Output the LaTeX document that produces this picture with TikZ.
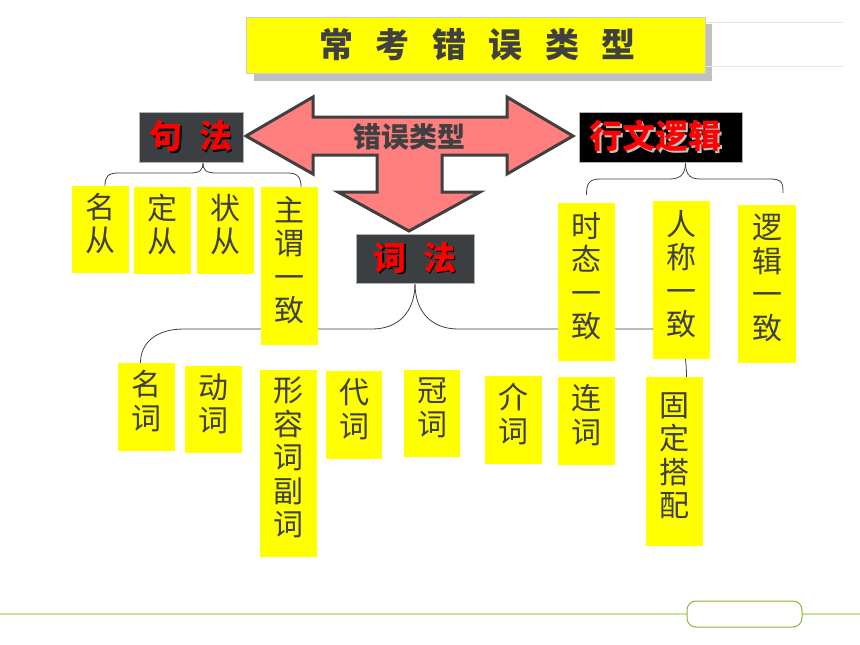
\documentclass[tikz,border=0pt]{standalone}
\usepackage{fontspec}
\newfontfamily\cjk{Noto Sans CJK SC}
\definecolor{boxyellow}{HTML}{FFFF00}
\definecolor{arrowpink}{HTML}{FF7F7F}
\definecolor{darkline}{HTML}{404040}
\definecolor{slate}{HTML}{3C3F42}
\definecolor{textgray}{HTML}{404040}
\definecolor{palegreen}{HTML}{CDE09C}
\definecolor{leafgreen}{HTML}{8CB43C}
\definecolor{shadowgray}{HTML}{C0C0C0}
\pgfdeclarelayer{background}
\pgfsetlayers{background,main}
\newcommand\redshade[2]{\makebox[0pt][l]{\hspace{1.5pt}\raisebox{-1.5pt}{\color{#1}#2}}#2}
\tikzset{
  wordbox/.style={fill=boxyellow, minimum width=57, inner sep=0, align=center, text=textgray,
    font={\cjk\fontsize{30}{33.5}\selectfont}, execute at end node={\rule[-14pt]{0pt}{0pt}}},
  headbox/.style={fill=slate, draw=gray!60, line width=0.6, inner sep=0, text=red,
    font={\cjk\bfseries\fontsize{33}{36}\selectfont\spaceskip=.5em}},
  curlyline/.style={draw=darkline, line width=0.8}
}
\begin{document}
\begin{tikzpicture}[x=1pt, y=-1pt]
\useasboundingbox (0,0) rectangle (860,645);

% title
\fill [shadowgray] (254,24) rectangle (712,81);
\node [fill=boxyellow, draw=gray!40, line width=0.6, minimum width=459, minimum height=56, inner sep=0,
  text=textgray, font={\cjk\bfseries\fontsize{34}{40}\selectfont\spaceskip=.66em}] (title) at (475.5,45) {\hspace*{4pt}常 考 错 误 类 型};
\draw [gray!20, line width=0.8] (705,22) -- (843,22);
\draw [gray!20, line width=0.8] (705,66) -- (843,66);

% three-way arrow
\filldraw [fill=arrowpink, draw=darkline, line width=3]
  (246,136) -- (313,97) -- (313,117) -- (507,117) -- (507,97) -- (573,136) -- (507,174) -- (507,155)
  -- (442,155) -- (442,192) -- (480,192) -- (409,231) -- (338,192) -- (377,192) -- (377,155)
  -- (313,155) -- (313,174) -- cycle;
\node [text=textgray, font={\cjk\bfseries\fontsize{28}{30}\selectfont}] (kinds) at (409,137) {错误类型};

% heads
\node [headbox, minimum width=104, minimum height=50] (jufa) at (191,137) {\redshade{black}{句 法}};
\node [headbox, minimum width=118, minimum height=49] (cifa) at (415,258.5) {\redshade{black}{词 法}};
\node [headbox, fill=black, minimum width=163, minimum height=50] (hwlj) at (660.5,137) {\redshade{shadowgray}{行文逻辑}\hspace*{10pt}};

% 句法
\node [wordbox, minimum height=87] (mc) at (100.5,229.5) {名\\从};
\node [wordbox, minimum height=87] (dc) at (162.5,230.5) {定\\从};
\node [wordbox, minimum height=87] (zc) at (225.5,230.5) {状\\从};
\node [wordbox, minimum height=158] (zw) at (289.5,266) {主\\谓\\一\\致};

% 行文逻辑
\node [wordbox, minimum height=158] (st) at (586.5,282) {时\\态\\一\\致};
\node [wordbox, minimum height=158] (rc) at (681.5,280) {人\\称\\一\\致};
\node [wordbox, minimum width=58, minimum height=158] (lj) at (767,284) {逻\\辑\\一\\致};

% 词法
\node [wordbox, minimum height=88] (mci) at (146.5,407) {名\\词};
\node [wordbox, minimum height=87] (dci) at (213.5,409.5) {动\\词};
\node [wordbox, minimum height=187] (xr) at (288.5,463.5) {形\\容\\词\\副\\词};
\node [wordbox, minimum width=56, minimum height=88] (dai) at (354,415) {代\\词};
\node [wordbox, minimum width=56, minimum height=87] (gci) at (432,413.5) {冠\\词};
\node [wordbox, minimum height=88] (jci) at (513.5,420) {介\\词};
\node [wordbox, minimum height=88] (lci) at (586.5,421) {连\\词};
\node [wordbox, minimum height=169] (gd) at (674.5,461.5) {固\\定\\搭\\配};

\begin{pgfonlayer}{background}
\begin{scope}[curlyline]
\draw ([xshift=12]jufa.south) .. controls +(0,8) and +(10,0) .. (190,173) -- (118,173) .. controls +(-10,0) and +(0,-9) .. ([xshift=4.5]mc.north); %jufa-mc
\draw ([xshift=12]jufa.south) .. controls +(0,8) and +(-10,0) .. (216,173) -- (288,173) .. controls +(10,0) and +(0,-9) .. ([xshift=11.5]zw.north); %jufa-zw
\draw (cifa.south) .. controls +(0,30) and +(25,0) .. (372,329) -- (184,329) .. controls +(-28,0) and +(0,-20) .. ([xshift=-6]mci.north); %cifa-mci
\draw (cifa.south) .. controls +(0,30) and +(-25,0) .. (458,329) -- (650,329) .. controls +(30,0) and +(0,-30) .. ([xshift=12]gd.north); %cifa-gd
\draw ([xshift=25]hwlj.south) .. controls +(0,10) and +(12,0) .. (670,179) -- (600,179) .. controls +(-12,0) and +(0,-10) .. ([yshift=8]st.north); %hwlj-st
\draw ([xshift=25]hwlj.south) .. controls +(0,10) and +(-12,0) .. (700,179) -- (770,179) .. controls +(12,0) and +(0,-10) .. ([xshift=16,yshift=12]lj.north); %hwlj-lj
\end{scope}
\end{pgfonlayer}

% footer
\draw [palegreen, line width=1.5] (0,614) -- (860,614);
\filldraw [fill=white, draw=leafgreen, line width=1, rounded corners=9] (687,601) rectangle (802,627);

\end{tikzpicture}
\end{document}
